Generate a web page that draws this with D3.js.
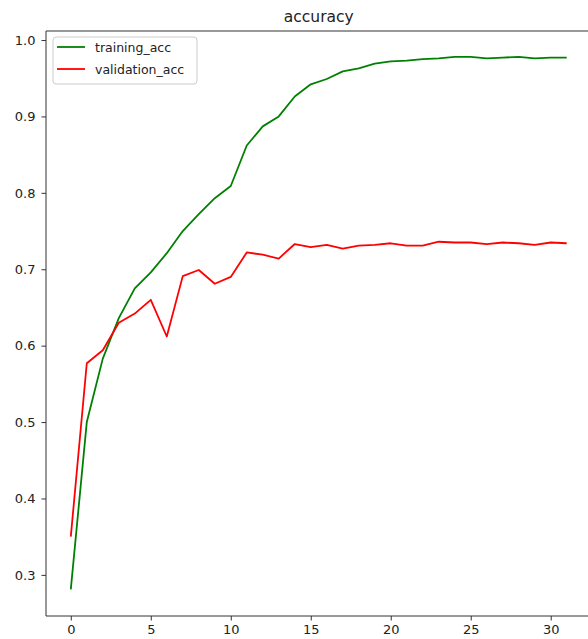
<!DOCTYPE html>
<html>
<head>
<meta charset="utf-8">
<script src="https://cdn.jsdelivr.net/npm/d3@7"></script>
<style>
  body { margin: 0; background: #fff; }
  svg text { font-family: "DejaVu Sans", sans-serif; fill: #222; }
</style>
</head>
<body>
<svg id="chart" width="588" height="639"></svg>
<script>
// epochs 0..31
var epochs = d3.range(0, 32);
var trainingAcc = [0.281, 0.500, 0.583, 0.636, 0.675, 0.696, 0.721, 0.750, 0.772, 0.793, 0.809,
  0.862, 0.887, 0.900, 0.926, 0.942, 0.949, 0.959, 0.963, 0.969, 0.972, 0.973, 0.975, 0.976,
  0.978, 0.978, 0.976, 0.977, 0.978, 0.976, 0.977, 0.977];
var validationAcc = [0.350, 0.577, 0.594, 0.630, 0.642, 0.660, 0.612, 0.691, 0.699, 0.681, 0.690,
  0.722, 0.719, 0.714, 0.733, 0.729, 0.732, 0.727, 0.731, 0.732, 0.734, 0.731, 0.731, 0.736,
  0.735, 0.735, 0.733, 0.735, 0.734, 0.732, 0.735, 0.734];
var xTicks = [0, 5, 10, 15, 20, 25, 30];
var yTicks = [0.3, 0.4, 0.5, 0.6, 0.7, 0.8, 0.9, 1.0];
var seriesNames = ["training_acc", "validation_acc"];
var seriesColors = ["green", "red"];

var svg = d3.select("#chart");
var mLeft = 46, mRight = 591.5, mTop = 31, mBottom = 616;

var x = d3.scaleLinear().domain([-1.55, 32.55]).range([mLeft, mRight]);
var y = d3.scaleLinear().domain([0.2462, 1.0118]).range([mBottom, mTop]);

// lines
var line = d3.line()
  .x(function(d, i) { return x(epochs[i]); })
  .y(function(d) { return y(d); });

[trainingAcc, validationAcc].forEach(function(s, k) {
  svg.append("path")
    .datum(s)
    .attr("fill", "none")
    .attr("stroke", seriesColors[k])
    .attr("stroke-width", 1.8)
    .attr("stroke-linejoin", "round")
    .attr("d", line);
});

// axes
var xAxis = svg.append("g")
  .attr("transform", "translate(0," + mBottom + ")")
  .call(d3.axisBottom(x).tickValues(xTicks).tickSize(4.5).tickPadding(4).tickFormat(d3.format("d")));
var yAxis = svg.append("g")
  .attr("transform", "translate(" + mLeft + ",0)")
  .call(d3.axisLeft(y).tickValues(yTicks).tickSize(4.5).tickPadding(6).tickFormat(d3.format(".1f")));

[xAxis, yAxis].forEach(function(a) {
  a.select(".domain").remove();
  a.selectAll(".tick line").attr("stroke", "#333").attr("stroke-width", 1);
  a.selectAll(".tick text").attr("font-size", 13).attr("fill", "#222");
});

// spines
svg.append("line").attr("x1", mLeft).attr("x2", mLeft).attr("y1", mTop).attr("y2", mBottom)
  .attr("stroke", "#333").attr("stroke-width", 1);
svg.append("line").attr("x1", mLeft).attr("x2", 588).attr("y1", mBottom).attr("y2", mBottom)
  .attr("stroke", "#333").attr("stroke-width", 1);
svg.append("line").attr("x1", mLeft).attr("x2", 588).attr("y1", mTop).attr("y2", mTop)
  .attr("stroke", "#333").attr("stroke-width", 1);

// title
svg.append("text")
  .attr("x", (mLeft + mRight) / 2)
  .attr("y", 22)
  .attr("text-anchor", "middle")
  .attr("font-size", 15.5)
  .text("accuracy");

// legend
var legend = svg.append("g").attr("transform", "translate(53,37)");
legend.append("rect")
  .attr("width", 144).attr("height", 47)
  .attr("rx", 3)
  .attr("fill", "#fff").attr("fill-opacity", 0.8)
  .attr("stroke", "#ccc");
seriesNames.forEach(function(name, i) {
  var g = legend.append("g").attr("transform", "translate(0," + (10 + i * 22) + ")");
  g.append("line").attr("x1", 4).attr("x2", 32).attr("y1", 0).attr("y2", 0)
    .attr("stroke", seriesColors[i]).attr("stroke-width", 1.8);
  g.append("text").attr("x", 42).attr("y", 4.5).attr("font-size", 12.5).text(name);
});
</script>
</body>
</html>
